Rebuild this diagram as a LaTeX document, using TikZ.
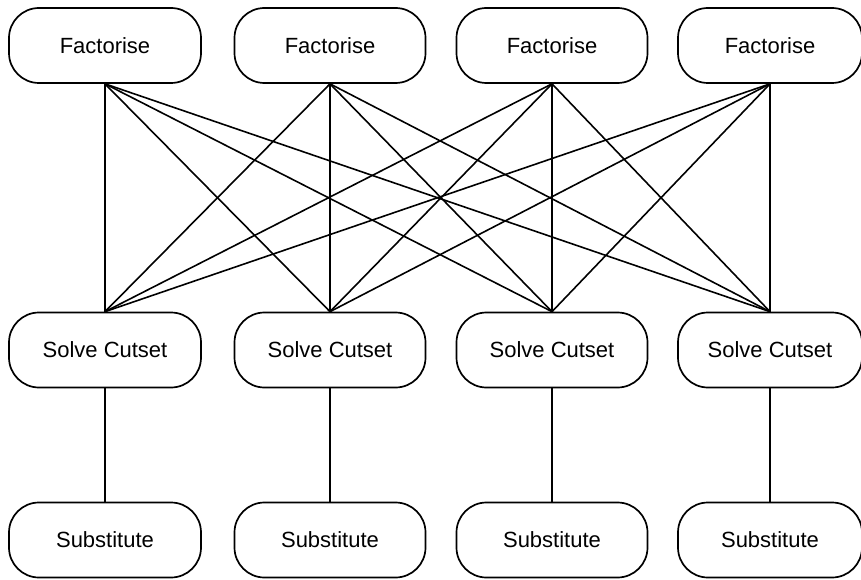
\documentclass[tikz,border=0pt]{standalone}
\usepackage{fontspec}
\setmainfont{Liberation Sans}
\begin{document}
\begin{tikzpicture}[x=1pt,y=-1pt,
  stage/.style={draw, line width=1.7pt, rounded corners=30pt,
    minimum width=192pt, minimum height=75pt, inner sep=0pt,
    font=\fontsize{22}{24}\selectfont},
  link/.style={line width=1.6pt}]
\useasboundingbox (0,0) rectangle (861,580);
% columns of the three stages
\foreach \i/\x/\w in {1/105/192, 2/330/191, 3/552/191, 4/770/184} {
  \node[stage, minimum width=\w pt] (f\i) at (\x,45.5) {Factorise};
  \node[stage, minimum width=\w pt] (s\i) at (\x,350) {Solve Cutset};
  \node[stage, minimum width=\w pt] (u\i) at (\x,540) {Substitute};
}
% every factorisation feeds every cutset solver
\foreach \i in {1,...,4}
  \foreach \j in {1,...,4}
    \draw[link] (f\i.south) -- (s\j.north);
% each solver feeds its own substitution
\foreach \i in {1,...,4}
  \draw[link] (s\i.south) -- (u\i.north);
\end{tikzpicture}
\end{document}
